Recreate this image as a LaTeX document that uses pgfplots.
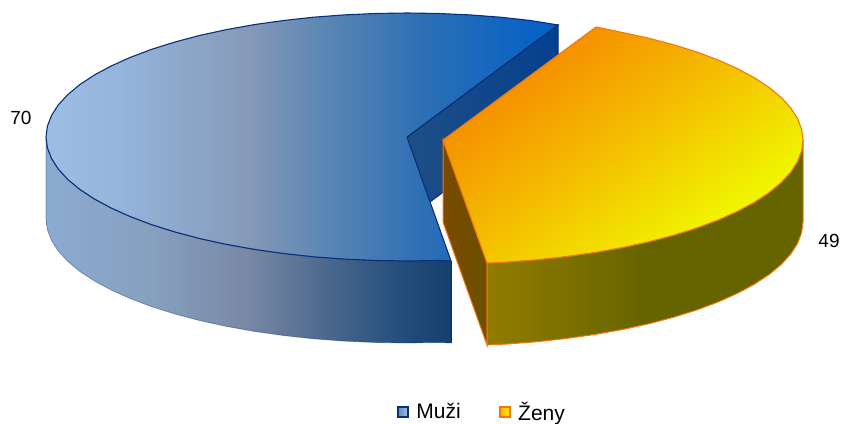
\documentclass[border=0pt]{standalone}
\usepackage{pgfplots}
\pgfplotsset{compat=1.18}
\usepackage{fontspec}
\setmainfont{Liberation Sans}
\definecolor{bt0}{HTML}{9DBEE4}\definecolor{bt1}{HTML}{95B5DB}\definecolor{bt2}{HTML}{8599B8}\definecolor{bt3}{HTML}{5C86B4}\definecolor{bt4}{HTML}{2C6FB4}\definecolor{bt5}{HTML}{0060C8}
\definecolor{bw0}{HTML}{8BABD0}\definecolor{bw1}{HTML}{87A0C0}\definecolor{bw2}{HTML}{7888A5}\definecolor{bw3}{HTML}{4E6A8E}\definecolor{bw4}{HTML}{244F7C}\definecolor{bw5}{HTML}{143F6E}
\definecolor{bi0}{HTML}{1F4E85}\definecolor{bi1}{HTML}{03408F}
\definecolor{navy}{HTML}{0A2F7A}
\definecolor{orng}{HTML}{F07810}
\definecolor{yt0}{HTML}{F59000}\definecolor{yt1}{HTML}{F4C000}\definecolor{yt2}{HTML}{F0F400}
\definecolor{yw0}{HTML}{927C00}\definecolor{yw1}{HTML}{666400}
\definecolor{yb0}{HTML}{7A4A00}\definecolor{yb1}{HTML}{6A5000}
\definecolor{lgb0}{HTML}{5F8FC4}\definecolor{lgb1}{HTML}{A9C4E0}
\definecolor{lgy0}{HTML}{FFB000}\definecolor{lgy1}{HTML}{FFF000}
\pgfdeclarehorizontalshading{bluetop}{100bp}{color(0bp)=(bt0);color(25bp)=(bt0);color(32bp)=(bt1);color(45bp)=(bt2);color(52bp)=(bt3);color(62bp)=(bt4);color(75bp)=(bt5);color(100bp)=(bt5)}
\pgfdeclarehorizontalshading{bluewall}{100bp}{color(0bp)=(bw0);color(25bp)=(bw0);color(38bp)=(bw1);color(50bp)=(bw2);color(59bp)=(bw3);color(68.7bp)=(bw4);color(75bp)=(bw5);color(100bp)=(bw5)}
\pgfdeclarehorizontalshading{blueinner}{100bp}{color(0bp)=(bi0);color(25bp)=(bi0);color(75bp)=(bi1);color(100bp)=(bi1)}
\pgfdeclarehorizontalshading{yeltop}{100bp}{color(0bp)=(yt0);color(30bp)=(yt0);color(50bp)=(yt1);color(70bp)=(yt2);color(100bp)=(yt2)}
\pgfdeclarehorizontalshading{yelwall}{100bp}{color(0bp)=(yw0);color(25bp)=(yw0);color(50bp)=(yw1);color(100bp)=(yw1)}
\pgfdeclarehorizontalshading{yelcut}{100bp}{color(0bp)=(yb0);color(25bp)=(yb0);color(75bp)=(yb1);color(100bp)=(yb1)}
\begin{document}
\begin{tikzpicture}
\begin{axis}[
  scale only axis, width=843pt, height=423pt,
  xmin=0, xmax=843, ymin=0, ymax=423, y dir=reverse,
  hide axis, clip=false,
  legend style={at={(axis cs:482,412)}, anchor=center, draw=none, fill=none, legend columns=2,
    font=\fontsize{21}{23}\selectfont, inner sep=0pt,
    /tikz/every even column/.append style={column sep=36pt}},
  legend cell align=left,
]
\path[use as bounding box] (axis cs:0,0) rectangle (axis cs:843,423);
% --- Muzi 70: cut face
\addplot[forget plot, mark=none, shading=blueinner, draw=navy, line width=1pt] coordinates {
 (407,137) (558,25) (558,107) (407,219)} -- cycle;
% wall
\addplot[forget plot, mark=none, shading=bluewall, draw=navy, draw opacity=0.4, line width=0.8pt] coordinates {
 (46,137) (47.4,147.8) (51.5,158.5) (58.3,169.1) (67.8,179.4) (79.8,189.4) (94.4,199) (111.3,208.1)
 (130.5,216.7) (151.7,224.7) (175,232) (199.9,238.6) (226.5,244.4) (254.4,249.4) (283.5,253.5)
 (313.6,256.8) (344.3,259.1) (375.5,260.5) (407,261) (438.5,260.5) (451,261)
 (451,343) (438.5,342.5) (407,343) (375.5,342.5) (344.3,341.1) (313.6,338.8) (283.5,335.5)
 (254.4,331.4) (226.5,326.4) (199.9,320.6) (175,314) (151.7,306.7) (130.5,298.7) (111.3,290.1)
 (94.4,281) (79.8,271.4) (67.8,261.4) (58.3,251.1) (51.5,240.5) (47.4,229.8) (46,219)} -- cycle;
\addplot[forget plot, mark=none, draw=navy, line width=1pt] coordinates {(451,261) (451,343)};
% top
\addplot[forget plot, mark=none, shading=bluetop, draw=navy, line width=1.1pt] coordinates {
 (407,137) (558,25) (530.5,20.5) (500.4,17.2) (469.7,14.9) (438.5,13.5) (407,13) (375.5,13.5)
 (344.3,14.9) (313.6,17.2) (283.5,20.5) (254.4,24.6) (226.5,29.6) (199.9,35.4) (175,42) (151.7,49.3)
 (130.5,57.3) (111.3,65.9) (94.4,75) (79.8,84.6) (67.8,94.6) (58.3,104.9) (51.5,115.5) (47.4,126.2)
 (46,137) (47.4,147.8) (51.5,158.5) (58.3,169.1) (67.8,179.4) (79.8,189.4) (94.4,199) (111.3,208.1)
 (130.5,216.7) (151.7,224.7) (175,232) (199.9,238.6) (226.5,244.4) (254.4,249.4) (283.5,253.5)
 (313.6,256.8) (344.3,259.1) (375.5,260.5) (407,261) (438.5,260.5) (451,261)} -- cycle;
% --- Zeny 49: cut face
\addplot[forget plot, mark=none, shading=yelcut, draw=orng, line width=1pt] coordinates {
 (443,140) (487,263) (487,345) (443,222)} -- cycle;
% wall
\addplot[forget plot, mark=none, shading=yelwall, draw=orng, line width=1pt] coordinates {
 (803,140) (801.6,150.8) (797.5,161.5) (790.7,172.1) (781.3,182.4) (769.3,192.4) (754.8,202)
 (737.9,211.1) (718.8,219.7) (697.6,227.7) (674.4,235) (649.5,241.6) (623,247.4) (595.1,252.4)
 (566.1,256.5) (536.2,259.8) (505.5,262.1) (487,263)
 (487,345) (505.5,344.1) (536.2,341.8) (566.1,338.5) (595.1,334.4) (623,329.4) (649.5,323.6)
 (674.4,317) (697.6,309.7) (718.8,301.7) (737.9,293.1) (754.8,284) (769.3,274.4) (781.3,264.4)
 (790.7,254.1) (797.5,243.5) (801.6,232.8) (803,222)} -- cycle;
% top
\addplot[forget plot, mark=none, shading=yeltop, shading angle=-54, draw=orng, line width=1.1pt] coordinates {
 (443,140) (596,27) (623,32.6) (649.5,38.4) (674.4,45) (697.6,52.3) (718.8,60.3) (737.9,68.9)
 (754.8,78) (769.3,87.6) (781.3,97.6) (790.7,107.9) (797.5,118.5) (801.6,129.2) (803,140)
 (801.6,150.8) (797.5,161.5) (790.7,172.1) (781.3,182.4) (769.3,192.4) (754.8,202)
 (737.9,211.1) (718.8,219.7) (697.6,227.7) (674.4,235) (649.5,241.6) (623,247.4) (595.1,252.4)
 (566.1,256.5) (536.2,259.8) (505.5,262.1) (487,263)} -- cycle;
% labels
\node[font=\fontsize{19}{21}\selectfont, anchor=center] at (axis cs:21,118) {70};
\node[font=\fontsize{19}{21}\selectfont, anchor=center] at (axis cs:829,241) {49};
% legend
\addlegendimage{legend image code/.code={
  \draw[draw=navy, line width=2.4pt, left color=lgb0, right color=lgb1] (0pt,-5pt) rectangle (10pt,5pt);
  \path (16pt,0pt);}}
\addlegendentry{Muži}
\addlegendimage{legend image code/.code={
  \draw[draw=orng, line width=2.4pt, left color=lgy0, right color=lgy1] (0pt,-5pt) rectangle (10pt,5pt);
  \path (16pt,0pt);}}
\addlegendentry{Ženy}
\end{axis}
\end{tikzpicture}
\end{document}
